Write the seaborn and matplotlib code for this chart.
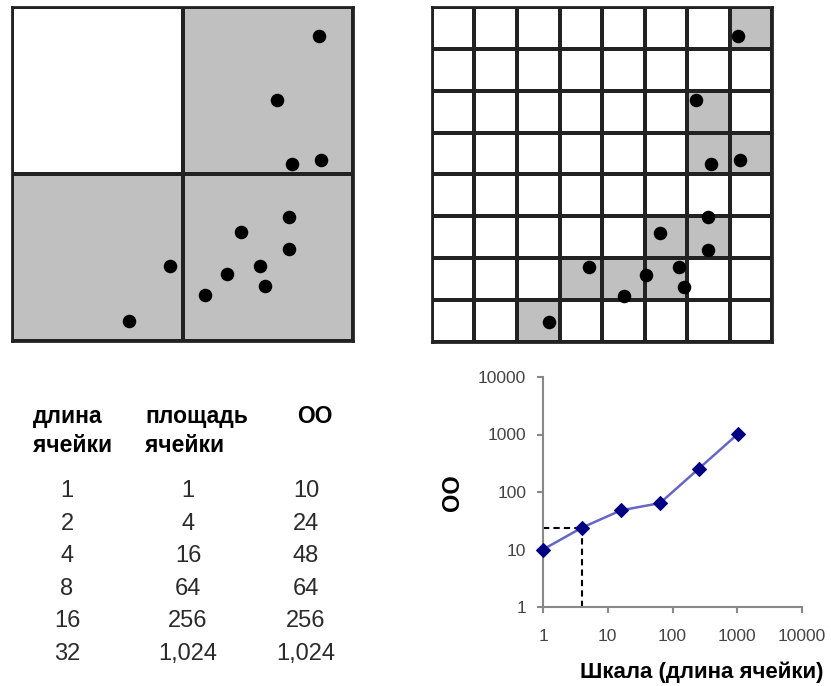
import numpy as np
import pandas as pd
import matplotlib
matplotlib.use('Agg')
import matplotlib.pyplot as plt
from matplotlib.colors import ListedColormap
from matplotlib.ticker import NullLocator
import seaborn as sns

# points inside the square (fractions of the box side)
pts_x = [0.900, 0.777, 0.821, 0.906, 0.812, 0.672, 0.812, 0.463, 0.727, 0.630, 0.742, 0.566, 0.343]
pts_y = [0.913, 0.722, 0.530, 0.542, 0.372, 0.326, 0.275, 0.225, 0.225, 0.201, 0.165, 0.138, 0.060]

# table / log-log data
cell_length = [1, 2, 4, 8, 16, 32]
cell_area = [1, 4, 16, 64, 256, 1024]
oo = [10, 24, 48, 64, 256, 1024]
headers = ['длина\nячейки', 'площадь\nячейки', 'ОО']
axis_ticks = [1, 10, 100, 1000, 10000]

sns.set_theme(style='white')
plt.rcParams['font.family'] = ['Liberation Sans', 'DejaVu Sans']

W, H = 831, 686
fig = plt.figure(figsize=(W / 100, H / 100), dpi=100)


def fx(px):
    return px / W


def fy(py):
    return 1 - py / H


def box_grid(ax, n):
    # occupied cells -> grey, empty -> white
    cnt, _, _ = np.histogram2d(pts_x, pts_y, bins=n, range=[[0, 1], [0, 1]])
    occ = (cnt.T > 0).astype(int)
    sns.heatmap(occ, ax=ax, cmap=ListedColormap(['white', '#c0c0c0']), vmin=0, vmax=1,
                cbar=False, linewidths=1.6, linecolor='#222222')
    ax.set_xlim(0, n)
    ax.set_ylim(0, n)
    sns.scatterplot(x=np.array(pts_x) * n, y=np.array(pts_y) * n, ax=ax,
                    color='black', s=95, linewidth=0, zorder=3)
    ax.set_xticks([])
    ax.set_yticks([])
    ax.set_xlabel('')
    ax.set_ylabel('')
    for sp in ax.spines.values():
        sp.set_visible(True)
        sp.set_linewidth(2)
        sp.set_color('#222222')


ax1 = fig.add_axes([fx(12), fy(341), 341 / W, 334 / H])
box_grid(ax1, 2)
ax2 = fig.add_axes([fx(432), fy(342), 340 / W, 335 / H])
box_grid(ax2, 8)

# table
col_x = [67, 188, 306]
hdr_x = [33, 145, 297]
for hx, h in zip(hdr_x, headers):
    for i, line in enumerate(h.split('\n')):
        fig.text(fx(hx), fy(423 + 29 * i), line, ha='left', va='baseline',
                 fontsize=16.5, fontweight='bold', color='black')
cols = [[str(v) for v in cell_length],
        [f'{v:,}' for v in cell_area],
        [f'{v:,}' for v in oo]]
for cx, col in zip(col_x, cols):
    for i, s in enumerate(col):
        fig.text(fx(cx), fy(497 + 32.6 * i), s, ha='center', va='baseline',
                 fontsize=17, color='#2b2b2b')

# log-log plot
ax3 = fig.add_axes([fx(543), fy(607), 259 / W, 230 / H])
ax3.set_xscale('log')
ax3.set_yscale('log')
df = pd.DataFrame({'area': cell_area, 'oo': oo})
sns.lineplot(data=df, x='area', y='oo', ax=ax3, color='#6666c8', lw=1.8,
             marker='D', markersize=7, markerfacecolor='#000080',
             markeredgecolor='#000080', clip_on=False, zorder=3)
ax3.plot([axis_ticks[0], cell_area[1]], [oo[1], oo[1]], color='black', ls=(0, (3, 2)), lw=1.5)
ax3.plot([cell_area[1], cell_area[1]], [axis_ticks[0], oo[1]], color='black', ls=(0, (3, 2)), lw=1.5)
ax3.set_xlim(axis_ticks[0], axis_ticks[-1])
ax3.set_ylim(axis_ticks[0], axis_ticks[-1])
ax3.set_xticks(axis_ticks, labels=[str(t) for t in axis_ticks])
ax3.set_yticks(axis_ticks, labels=[str(t) for t in axis_ticks])
ax3.xaxis.set_minor_locator(NullLocator())
ax3.yaxis.set_minor_locator(NullLocator())
ax3.set_xlabel('')
ax3.set_ylabel('')
sns.despine(ax=ax3)
for s in ['left', 'bottom']:
    ax3.spines[s].set_color('#888888')
    ax3.spines[s].set_linewidth(1.5)
ax3.tick_params(axis='both', which='major', direction='out', length=4, width=1.5,
                color='#888888', labelcolor='#444444', labelsize=12.5, left=True, bottom=True)
ax3.tick_params(axis='x', pad=12)
ax3.tick_params(axis='y', pad=8)

fig.text(fx(452), fy(493), 'ОО', rotation=90, ha='center', va='center',
         fontsize=17, fontweight='bold', color='black')
fig.text(fx(702), fy(672), 'Шкала (длина ячейки)', ha='center', va='center',
         fontsize=16, fontweight='bold', color='black')

fig.savefig('out.png', dpi=100)
